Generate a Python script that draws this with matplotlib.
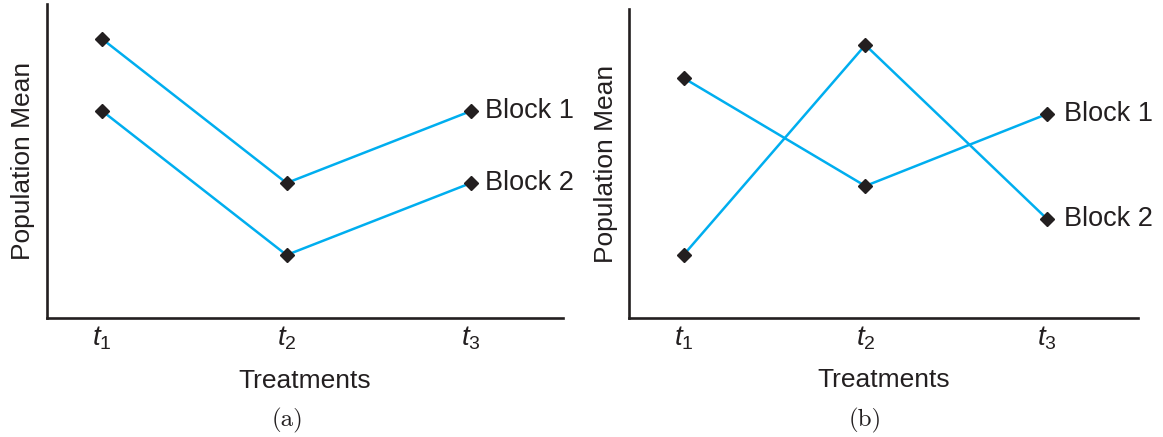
import matplotlib.pyplot as plt

plt.rcParams['font.family'] = ['Liberation Sans', 'DejaVu Sans']
plt.rcParams['mathtext.fontset'] = 'custom'
plt.rcParams['mathtext.it'] = 'Liberation Sans:italic'
plt.rcParams['mathtext.rm'] = 'Liberation Sans'

# data (arbitrary mean units)
treatments = [1, 2, 3]
tick_labels = ['$t_1$', '$t_2$', '$t_3$']
block_names = ['Block 1', 'Block 2']

# (a) no interaction
means_a_block1 = [9.3, 4.5, 6.9]
means_a_block2 = [6.9, 2.1, 4.5]
# (b) interaction
means_b_block1 = [8.0, 4.4, 6.8]
means_b_block2 = [2.1, 9.1, 3.3]

line_col = '#00aeef'
ink = '#231f20'

fig = plt.figure(figsize=(11.63, 4.37), dpi=100)
ax_a = fig.add_axes([47 / 1163, 119 / 437, 516 / 1163, 314 / 437])
ax_b = fig.add_axes([629 / 1163, 119 / 437, 509 / 1163, 309 / 437])


def draw_panel(ax, b1, b2, ytop, label_off):
    for vals, name in zip([b1, b2], block_names):
        ax.plot(treatments, vals, color=line_col, lw=1.8, zorder=2)
        ax.plot(treatments, vals, ls='none', marker='D', ms=7.5,
                color=ink, zorder=3)
        ax.annotate(name, (treatments[-1], vals[-1]), xytext=(label_off, 0),
                    textcoords='offset points', va='center', ha='left',
                    fontsize=19.5, color=ink, annotation_clip=False)
    ax.set_xlim(0.7, 3.5)
    ax.set_ylim(0, ytop)
    for s in ['top', 'right']:
        ax.spines[s].set_visible(False)
    for s in ['left', 'bottom']:
        ax.spines[s].set_linewidth(1.9)
        ax.spines[s].set_color(ink)
    ax.set_xticks(treatments)
    ax.set_xticklabels(tick_labels, fontsize=20, color=ink)
    ax.set_yticks([])
    ax.tick_params(axis='x', length=0, pad=5)
    ax.set_xlabel('Treatments', fontsize=19, color=ink)
    ax.xaxis.label.set_va('baseline')
    ax.xaxis.set_label_coords(0.5, -70 / 314)
    ax.set_ylabel('Population Mean', fontsize=19, color=ink)
    ax.yaxis.label.set_va('baseline')
    ax.yaxis.set_label_coords(-16.5 / 516, 0.5)


draw_panel(ax_a, means_a_block1, means_a_block2, 10.47, 10.5)
draw_panel(ax_b, means_b_block1, means_b_block2, 10.3, 12)

fig.text(287 / 1163, 17 / 437, '(a)', family='cmr10', fontsize=18,
         ha='center', va='center', color=ink)
fig.text(865 / 1163, 17 / 437, '(b)', family='cmr10', fontsize=18,
         ha='center', va='center', color=ink)

fig.savefig('out.png', dpi=100)
